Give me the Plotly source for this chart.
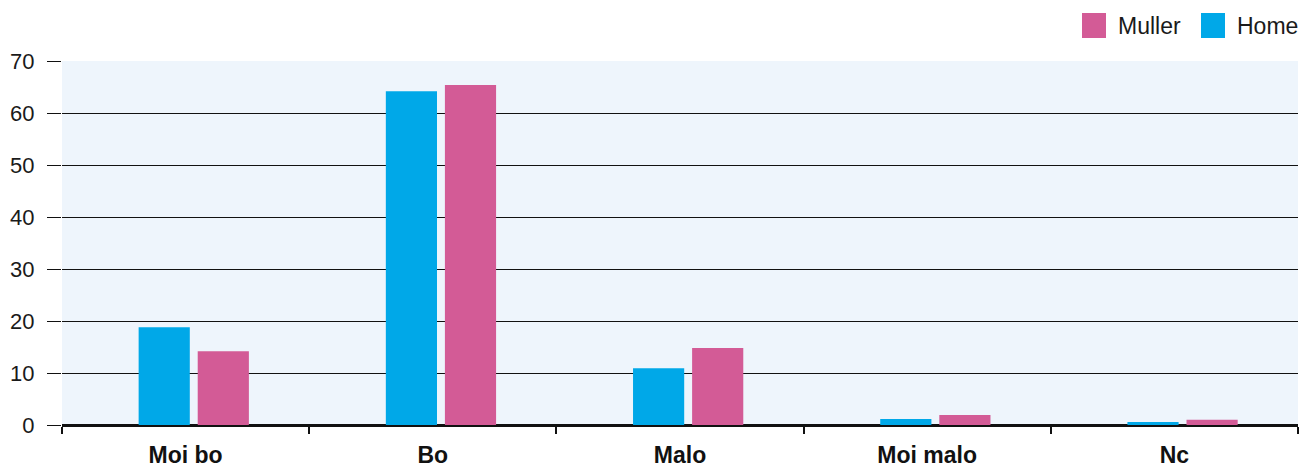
import plotly.graph_objects as go

categories = ["Moi bo", "Bo", "Malo", "Moi malo", "Nc"]
home = [18.8, 64.2, 10.9, 1.15, 0.6]
muller = [14.2, 65.4, 14.8, 1.9, 1.0]
y_ticks = [0, 10, 20, 30, 40, 50, 60, 70]

HOME_COLOR = "#00A8E8"
MULLER_COLOR = "#D35B96"
FONT = "Liberation Sans, Arial, sans-serif"

W, H = 1304, 467
M = dict(l=62, r=6, t=61, b=42)

# bar geometry in category units
BAR_W = 0.207
HOME_OFF = -0.19
MULLER_OFF = HOME_OFF + BAR_W + 0.032

fig = go.Figure()
fig.add_trace(go.Bar(name="Home", x=categories, y=home, marker_color=HOME_COLOR,
                     marker_line_width=0, width=BAR_W, offset=HOME_OFF, showlegend=False))
fig.add_trace(go.Bar(name="Muller", x=categories, y=muller, marker_color=MULLER_COLOR,
                     marker_line_width=0, width=BAR_W, offset=MULLER_OFF, showlegend=False))


def px_x(px):
    return (px - M["l"]) / (W - M["l"] - M["r"])


def px_y(py):
    return (H - M["b"] - py) / (H - M["t"] - M["b"])


# custom legend with large square swatches
shapes, annotations = [], []
for name, color, sw_left in [("Muller", MULLER_COLOR, 1082), ("Home", HOME_COLOR, 1201)]:
    shapes.append(dict(type="rect", xref="paper", yref="paper",
                       x0=px_x(sw_left), x1=px_x(sw_left + 24),
                       y0=px_y(38), y1=px_y(13),
                       fillcolor=color, line_width=0, layer="above"))
    annotations.append(dict(text=name, xref="paper", yref="paper",
                            x=px_x(sw_left + 34), y=px_y(26.5),
                            xanchor="left", yanchor="middle", showarrow=False,
                            font=dict(family=FONT, size=23, color="#1a1a1a")))

fig.update_layout(
    width=W, height=H,
    margin=M,
    paper_bgcolor="white",
    plot_bgcolor="#EEF5FC",
    barmode="overlay",
    showlegend=False,
    shapes=shapes,
    annotations=annotations,
    font=dict(family=FONT, size=18, color="#1a1a1a"),
    xaxis=dict(
        type="category",
        automargin=False,
        tickson="boundaries",
        ticks="outside", ticklen=7, tickwidth=2, tickcolor="#111",
        showline=True, linecolor="#111", linewidth=2,
        tickfont=dict(family=FONT, size=23, color="#111", weight="bold"),
        ticklabelstandoff=8,
        showgrid=False,
    ),
    yaxis=dict(
        range=[0, 70],
        automargin=False,
        tickvals=y_ticks,
        ticks="outside", ticklen=14, tickwidth=1, tickcolor="#111",
        showgrid=True, gridcolor="#111", gridwidth=1,
        zeroline=True, zerolinecolor="#111", zerolinewidth=2,
        tickfont=dict(family=FONT, size=22, color="#1a1a1a"),
        ticklabelstandoff=8,
    ),
)

fig.write_html("out.html")
